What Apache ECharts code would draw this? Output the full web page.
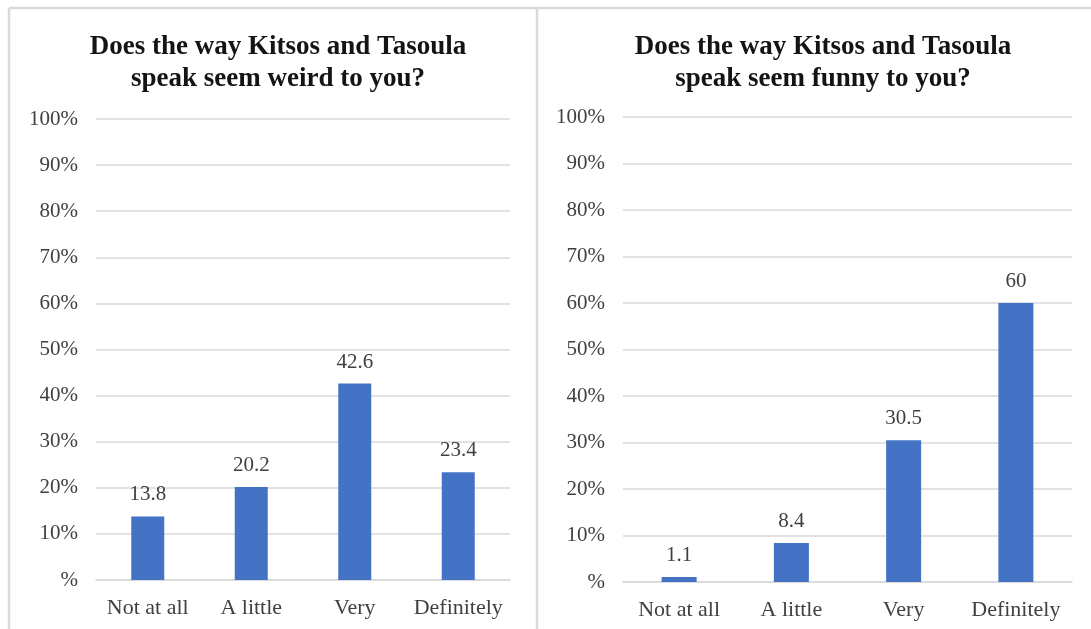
<!DOCTYPE html>
<html>
<head>
<meta charset="utf-8">
<script src="https://cdn.jsdelivr.net/npm/echarts@6/dist/echarts.min.js"></script>
<style>
  html, body { margin: 0; padding: 0; background: #ffffff; }
  #chart { width: 1091px; height: 629px; }
</style>
</head>
<body>
<div id="chart"></div>
<script>
// Survey answers, percentage of respondents per answer
const categories = ['Not at all', 'A little', 'Very', 'Definitely'];
const weirdValues = [13.8, 20.2, 42.6, 23.4];
const funnyValues = [1.1, 8.4, 30.5, 60];
const weirdTitle = 'Does the way Kitsos and Tasoula\nspeak seem weird to you?';
const funnyTitle = 'Does the way Kitsos and Tasoula\nspeak seem funny to you?';
const yTicks = [0, 10, 20, 30, 40, 50, 60, 70, 80, 90, 100];

const FONT = '"Liberation Serif", "Times New Roman", serif';
const BORDER = '#d9d9d9';
const GRID = '#d9d9d9';
const TEXT = '#404040';
const BAR = '#4472C4';

const chart = echarts.init(document.getElementById('chart'), null, { renderer: 'canvas' });

function yAxis(gridIndex) {
  return {
    gridIndex,
    type: 'value',
    min: yTicks[0],
    max: yTicks[yTicks.length - 1],
    interval: yTicks[1] - yTicks[0],
    axisLine: { show: false },
    axisTick: { show: false },
    splitLine: { lineStyle: { color: GRID, width: 1.5 } },
    axisLabel: {
      margin: 18,
      color: TEXT,
      fontFamily: FONT,
      fontSize: 21,
      formatter: v => (v === 0 ? '%' : v + '%')
    }
  };
}

function xAxis(gridIndex) {
  return {
    gridIndex,
    type: 'category',
    data: categories,
    axisLine: { lineStyle: { color: GRID, width: 1.5 } },
    axisTick: { show: false },
    axisLabel: {
      margin: 17,
      color: TEXT,
      fontFamily: FONT,
      fontSize: 22,
      interval: 0
    }
  };
}

function barSeries(idx, data, width) {
  return {
    type: 'bar',
    xAxisIndex: idx,
    yAxisIndex: idx,
    data,
    barWidth: width,
    itemStyle: { color: BAR },
    label: {
      show: true,
      position: 'top',
      distance: 11,
      color: TEXT,
      fontFamily: FONT,
      fontSize: 21,
      formatter: p => String(p.value)
    }
  };
}

function titleBlock(text, centerX) {
  return {
    text,
    left: centerX,
    top: 26,
    textAlign: 'center',
    textStyle: {
      fontFamily: FONT,
      fontWeight: 'bold',
      fontSize: 27,
      lineHeight: 32,
      color: '#141414'
    }
  };
}

chart.setOption({
  backgroundColor: '#ffffff',
  animation: false,
  title: [titleBlock(weirdTitle, 273), titleBlock(funnyTitle, 818)],
  grid: [
    { left: 96, top: 119, width: 414, height: 461 },
    { left: 623, top: 117, width: 449, height: 465 }
  ],
  xAxis: [xAxis(0), xAxis(1)],
  yAxis: [yAxis(0), yAxis(1)],
  series: [barSeries(0, weirdValues, 33), barSeries(1, funnyValues, 35)],
  graphic: [
    { type: 'line', shape: { x1: 9, y1: 8, x2: 1091, y2: 8 }, style: { stroke: BORDER, lineWidth: 2.5 } },
    { type: 'line', shape: { x1: 9, y1: 8, x2: 9, y2: 629 }, style: { stroke: BORDER, lineWidth: 2.5 } },
    { type: 'line', shape: { x1: 537, y1: 8, x2: 537, y2: 629 }, style: { stroke: BORDER, lineWidth: 2.5 } }
  ]
});
</script>
</body>
</html>
